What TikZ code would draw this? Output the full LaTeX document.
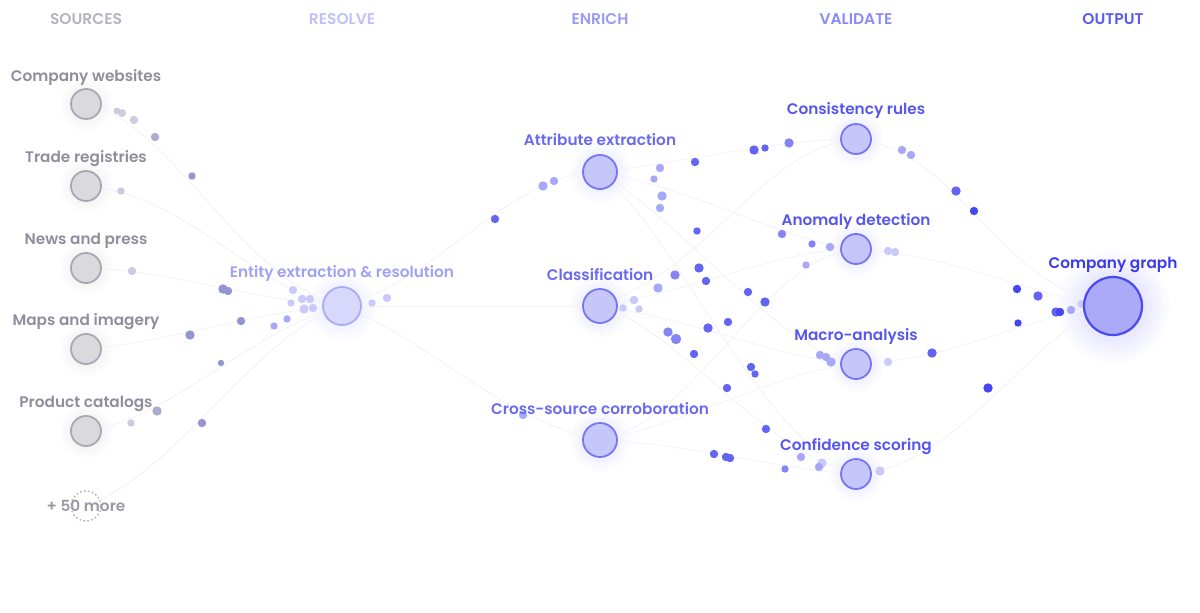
\documentclass[tikz,border=0pt]{standalone}
\usepackage{fontspec}
\setmainfont{Poppins}
\newfontfamily\lab{Poppins SemiBold}
\definecolor{hsrc}{HTML}{B4B4BE}
\definecolor{hres}{HTML}{C0C0FC}
\definecolor{henr}{HTML}{9A9AF8}
\definecolor{hval}{HTML}{8C8CF6}
\definecolor{hout}{HTML}{5A5AF0}
\definecolor{tsrc}{HTML}{8E8E9C}
\definecolor{tres}{HTML}{A0A0F6}
\definecolor{tenr}{HTML}{6A6AF0}
\definecolor{tval}{HTML}{5656EE}
\definecolor{tout}{HTML}{3A3AEE}
\definecolor{g1}{HTML}{CCCCDE}
\definecolor{g2}{HTML}{ACACCE}
\definecolor{g3}{HTML}{9494D0}
\definecolor{l1}{HTML}{CACAFA}
\definecolor{l2}{HTML}{A8A8F8}
\definecolor{l3}{HTML}{8484F4}
\definecolor{l4}{HTML}{6464F2}
\definecolor{l5}{HTML}{4646F0}
\definecolor{linkc}{HTML}{F3F3FB}
\definecolor{slinkc}{HTML}{F3F3F6}
\pgfdeclarelayer{halo}
\pgfdeclarelayer{bg}
\pgfsetlayers{halo,bg,main}
\begin{document}
\begin{tikzpicture}[x=1pt,y=-1pt,
  srcnode/.style={circle,inner sep=0pt,minimum size=30pt,fill={rgb,255:red,218;green,218;blue,222},draw={rgb,255:red,168;green,168;blue,178},line width=1.8pt},
  encnode/.style={circle,inner sep=0pt,minimum size=#1,fill={rgb,255:red,198;green,198;blue,250},draw={rgb,255:red,118;green,118;blue,240},line width=1.8pt},
  entnode/.style={circle,inner sep=0pt,minimum size=38pt,fill={rgb,255:red,216;green,216;blue,252},draw={rgb,255:red,170;green,170;blue,248},line width=1.8pt},
  outnode/.style={circle,inner sep=0pt,minimum size=58pt,fill={rgb,255:red,170;green,170;blue,248},draw={rgb,255:red,74;green,74;blue,240},line width=2.2pt},
  morenode/.style={circle,inner sep=0pt,minimum size=30pt,draw={rgb,255:red,176;green,176;blue,184},dash pattern=on 1.6pt off 2.4pt,line width=1.4pt},
  hdrtext/.style={anchor=base,font=\lab\fontsize{15.5}{16}\selectfont},
  lbl/.style={anchor=base,font=\lab\fontsize{15.3}{16}\selectfont},
  link/.style={draw=linkc,line width=0.9pt},
  slink/.style={draw=slinkc,line width=0.9pt}
]
\useasboundingbox (0,0) rectangle (1200,613);

% headers
\node[hdrtext,text=hsrc] (hS) at (86,24) {SOURCES};
\node[hdrtext,text=hres] (hR) at (342,24) {RESOLVE};
\node[hdrtext,text=henr] (hE) at (600,24) {ENRICH};
\node[hdrtext,text=hval] (hV) at (856,24) {VALIDATE};
\node[hdrtext,text=hout] (hO) at (1113,24) {OUTPUT};

% main nodes
\node[srcnode] (cw) at (86,104) {};
\node[srcnode] (tr) at (86,186) {};
\node[srcnode] (np) at (86,268) {};
\node[srcnode] (mi) at (86,349) {};
\node[srcnode] (pc) at (86,431) {};
\node[morenode] (mo) at (86,506) {};
\node[entnode] (ent) at (342,306) {};
\node[encnode=34pt] (att) at (600,172) {};
\node[encnode=34pt] (cls) at (600,306) {};
\node[encnode=34pt] (crs) at (600,440) {};
\node[encnode=30pt] (con) at (856,139) {};
\node[encnode=30pt] (ano) at (856,249) {};
\node[encnode=30pt] (mac) at (856,364) {};
\node[encnode=30pt] (cof) at (856,474) {};
\node[outnode] (cg) at (1113,306) {};

% labels
\node[lbl,text=tsrc] (Lcw) at (86,81) {Company websites};
\node[lbl,text=tsrc] (Ltr) at (86,162) {Trade registries};
\node[lbl,text=tsrc] (Lnp) at (86,244) {News and press};
\node[lbl,text=tsrc] (Lmi) at (86,325) {Maps and imagery};
\node[lbl,text=tsrc] (Lpc) at (86,407) {Product catalogs};
\node[lbl,text={rgb,255:red,154;green,154;blue,164}] (Lmo) at (86,511) {+ 50 more};
\node[lbl,text=tres] (Lent) at (342,277) {Entity extraction \& resolution};
\node[lbl,text=tenr] (Latt) at (600,145) {Attribute extraction};
\node[lbl,text=tenr] (Lcls) at (600,280) {Classification};
\node[lbl,text=tenr] (Lcrs) at (600,414) {Cross-source corroboration};
\node[lbl,text=tval] (Lcon) at (856,114) {Consistency rules};
\node[lbl,text=tval] (Lano) at (856,225) {Anomaly detection};
\node[lbl,text=tval] (Lmac) at (856,340) {Macro-analysis};
\node[lbl,text=tval] (Lcof) at (856,450) {Confidence scoring};
\node[lbl,text=tout] (Lcg) at (1113,268) {Company graph};

% halos
\begin{pgfonlayer}{halo}
\foreach \n in {cw,tr,np,mi,pc}
  \shade[inner color={rgb,255:red,232;green,232;blue,236},outer color=white] (\n.center) circle (28);
\shade[inner color={rgb,255:red,226;green,226;blue,254},outer color=white] (ent.center) circle (36);
\foreach \n in {att,cls,crs}
  \shade[inner color={rgb,255:red,222;green,222;blue,254},outer color=white] (\n.center) circle (32);
\foreach \n in {con,ano,mac,cof}
  \shade[inner color={rgb,255:red,222;green,222;blue,254},outer color=white] (\n.center) circle (28);
\shade[inner color={rgb,255:red,206;green,206;blue,254},outer color=white] (cg.center) circle (58);
\end{pgfonlayer}

\begin{pgfonlayer}{bg}
% sources -> entity
\draw[slink] (cw.center) .. controls (170,120) and (240,280) .. (ent.center);
\draw[slink] (tr.center) .. controls (190,195) and (260,295) .. (ent.center);
\draw[slink] (np.center) .. controls (170,270) and (250,300) .. (ent.center);
\draw[slink] (mi.center) .. controls (180,340) and (260,310) .. (ent.center);
\draw[slink] (pc.center) .. controls (170,420) and (250,330) .. (ent.center);
\draw[slink] (mo.center) .. controls (180,470) and (250,340) .. (ent.center);
% entity -> enrich
\draw[link] (ent.center) .. controls (440,280) and (510,172) .. (att.center);
\draw[link] (ent.center) -- (cls.center);
\draw[link] (ent.center) .. controls (430,340) and (500,420) .. (crs.center);
% enrich -> validate
\draw[link] (att.center) .. controls (700,160) and (780,139) .. (con.center);
\draw[link] (att.center) .. controls (700,190) and (780,240) .. (ano.center);
\draw[link] (att.center) .. controls (680,220) and (780,350) .. (mac.center);
\draw[link] (att.center) .. controls (680,240) and (760,440) .. (cof.center);
\draw[link] (cls.center) .. controls (720,260) and (760,150) .. (con.center);
\draw[link] (cls.center) .. controls (700,290) and (780,249) .. (ano.center);
\draw[link] (cls.center) .. controls (700,320) and (780,360) .. (mac.center);
\draw[link] (cls.center) .. controls (680,330) and (760,450) .. (cof.center);
\draw[link] (crs.center) .. controls (700,420) and (760,260) .. (ano.center);
\draw[link] (crs.center) .. controls (700,420) and (780,370) .. (mac.center);
\draw[link] (crs.center) .. controls (700,445) and (780,470) .. (cof.center);
% validate -> output
\draw[link] (con.center) .. controls (960,150) and (1000,290) .. (cg.center);
\draw[link] (ano.center) .. controls (960,255) and (1040,300) .. (cg.center);
\draw[link] (mac.center) .. controls (960,360) and (1040,310) .. (cg.center);
\draw[link] (cof.center) .. controls (960,470) and (1040,320) .. (cg.center);

% moving dots
\foreach \x/\y/\r/\c in {
 117/111/3.5/g1, 122/113/4/g1, 134/120/4.2/g1, 155/137/4.2/g2, 192/176/3.7/g3,
 121/191/3.7/g1, 132/271/4.2/g1, 223/289/4.7/g3, 228/291/4.2/g3, 190/335/4.7/g3,
 241/321/4.2/g3, 131/423/3.7/g1, 157/411/4.7/g2, 221/363/3.2/g3, 202/423/4.2/g3,
 293/290/4.2/l1, 302/299/4.2/l1, 310/299/4.2/l1, 291/303/3.7/l1, 304/309/4.7/l1,
 313/308/4.2/l1, 287/319/3.7/l2, 274/326/3.7/l2, 372/303/3.7/l1, 387/298/4.2/l1,
 495/219/4.2/l4, 543/186/4.7/l2, 554/181/4.2/l2,
 660/168/4.2/l2, 695/162/4.2/l4, 754/150/4.7/l4, 765/148/3.7/l4, 789/143/4.7/l3,
 654/179/3.7/l2, 662/196/4.7/l2, 660/208/4.2/l2, 697/231/3.7/l4, 782/234/4.2/l3,
 812/244/3.7/l3, 830/247/4.2/l2,
 675/275/4.7/l3, 658/288/4.7/l2, 634/300/4.2/l1, 639/309/3.7/l1, 623/308/3.7/l1,
 699/268/4.7/l4, 706/281/4.2/l4, 748/292/4.2/l4, 765/302/4.7/l4, 728/322/4.2/l4,
 708/328/4.7/l4, 668/332/4.7/l3, 676/339/5.2/l3, 694/354/4.2/l4, 751/367/4.2/l4,
 755/374/3.7/l4, 727/388/4.2/l4, 766/429/4.2/l4, 806/265/3.7/l2,
 523/415/4.2/l2, 714/454/4.2/l4, 726/457/4.2/l4, 730/458/4.2/l4, 785/469/3.7/l3,
 820/355/4.2/l2, 826/357/4.2/l2, 831/362/4.7/l2, 888/362/4.2/l1, 932/353/4.7/l4,
 801/457/4.2/l2, 822/463/4.7/l1, 819/467/4.2/l2, 880/471/4.7/l1,
 902/150/4.2/l2, 911/155/4.2/l2, 888/251/4.2/l1, 895/252/4.2/l1,
 956/191/4.7/l4, 974/211/4.2/l5, 1017/289/4.2/l5, 1038/296/4.7/l4, 1018/323/3.7/l5,
 988/388/4.7/l5, 1056/312/4.7/l4, 1060/312/4.2/l5, 1071/310/4.2/l2, 1081/304/3.7/l1}
  \fill[\c] (\x,\y) circle (\r);
\end{pgfonlayer}
\end{tikzpicture}
\end{document}
